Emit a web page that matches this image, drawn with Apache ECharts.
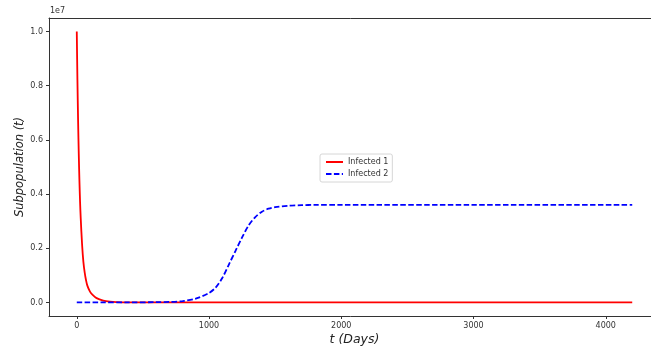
<!DOCTYPE html>
<html>
<head>
<meta charset="utf-8">
<script src="https://cdn.jsdelivr.net/npm/echarts@6/dist/echarts.min.js"></script>
<style>html,body{margin:0;padding:0;background:#fff;}#c{width:651px;height:352px;}</style>
</head>
<body>
<div id="c"></div>
<script>
// Infected 1 (red): time in days, value in units of 1e7
const t1 = [0, 5, 10, 15, 20, 25, 30, 40, 50, 60, 70, 80, 100, 120, 150, 200, 250, 300, 400, 600, 1000, 2000, 3000, 4200];
const v1 = [1.0, 0.82, 0.67, 0.55, 0.45, 0.37, 0.31, 0.215, 0.15, 0.11, 0.082, 0.062, 0.04, 0.028, 0.016, 0.007, 0.003, 0.0012, 0.0002, 0, 0, 0, 0, 0];
// Infected 2 (blue dashed)
const t2 = [0, 200, 400, 600, 700, 800, 900, 1000, 1050, 1100, 1150, 1200, 1250, 1300, 1350, 1400, 1450, 1500, 1600, 1700, 1800, 2000, 3000, 4200];
const v2 = [0, 0, 0.0002, 0.001, 0.002, 0.005, 0.014, 0.035, 0.055, 0.09, 0.14, 0.19, 0.24, 0.285, 0.315, 0.335, 0.346, 0.352, 0.357, 0.359, 0.36, 0.36, 0.36, 0.36];
const xTicks = [0, 1000, 2000, 3000, 4000];
const yTicks = [0, 0.2, 0.4, 0.6, 0.8, 1.0];
const scale = 1e7;

const d1 = t1.map((t, i) => [t, v1[i] * scale]);
const d2 = t2.map((t, i) => [t, v2[i] * scale]);

const chart = echarts.init(document.getElementById('c'), null, {renderer: 'canvas'});
const font = 'DejaVu Sans';
const axisColor = '#333';
chart.setOption({
  animation: false,
  backgroundColor: '#fff',
  grid: {left: 49, top: 18, width: 611, height: 298, containLabel: false, outerBoundsMode: 'none'},
  graphic: [{type: 'text', left: 50, top: 7, style: {text: '1e7', font: '8px "DejaVu Sans"', fill: '#333'}}],
  legend: {
    orient: 'vertical', left: 320, top: 154, padding: [4, 4, 4, 5],
    borderColor: '#d6d6d6', borderWidth: 1, borderRadius: 2,
    itemWidth: 17, itemHeight: 8, itemGap: 4,
    itemStyle: {opacity: 0},
    textStyle: {fontFamily: font, fontSize: 8, color: '#333'},
    data: ['Infected 1', 'Infected 2']
  },
  xAxis: [{
    type: 'value', min: -210, max: 4410,
    name: 't (Days)', nameLocation: 'middle', nameGap: 17, nameMoveOverlap: false,
    nameTextStyle: {fontFamily: font, fontSize: 12.5, fontStyle: 'italic', color: '#222'},
    axisLine: {show: true, onZero: false, lineStyle: {color: axisColor, width: 1}},
    axisTick: {show: true, length: 3, lineStyle: {color: axisColor}, customValues: xTicks},
    axisLabel: {fontFamily: font, fontSize: 8, color: '#333', margin: 6, customValues: xTicks, formatter: v => String(v)},
    splitLine: {show: false}
  }, {
    type: 'value', position: 'top', min: -210, max: 4410,
    axisLine: {show: true, onZero: false, lineStyle: {color: axisColor, width: 1}},
    axisTick: {show: false}, axisLabel: {show: false}, splitLine: {show: false}
  }],
  yAxis: {
    type: 'value', min: -0.05 * scale, max: 1.05 * scale,
    name: 'Subpopulation (t)', nameLocation: 'middle', nameGap: 23, nameMoveOverlap: false,
    nameTextStyle: {fontFamily: font, fontSize: 11.5, fontStyle: 'italic', color: '#222'},
    axisLine: {show: true, onZero: false, lineStyle: {color: axisColor, width: 1}},
    axisTick: {show: true, length: 3, lineStyle: {color: axisColor}, customValues: yTicks.map(v => v * scale)},
    axisLabel: {fontFamily: font, fontSize: 8, color: '#333', margin: 6,
      customValues: yTicks.map(v => v * scale),
      formatter: v => (v / scale).toFixed(1)},
    splitLine: {show: false}
  },
  series: [
    {name: 'Infected 1', type: 'line', data: d1, smooth: 0.3, showSymbol: false, symbol: 'none',
     lineStyle: {color: '#ff0000', width: 1.8}, itemStyle: {color: '#ff0000'}},
    {name: 'Infected 2', type: 'line', data: d2, smooth: 0.3, showSymbol: false, symbol: 'none',
     lineStyle: {color: '#0000ff', width: 1.8, type: [5.5, 2.4]}, itemStyle: {color: '#0000ff'}}
  ]
});
</script>
</body>
</html>
